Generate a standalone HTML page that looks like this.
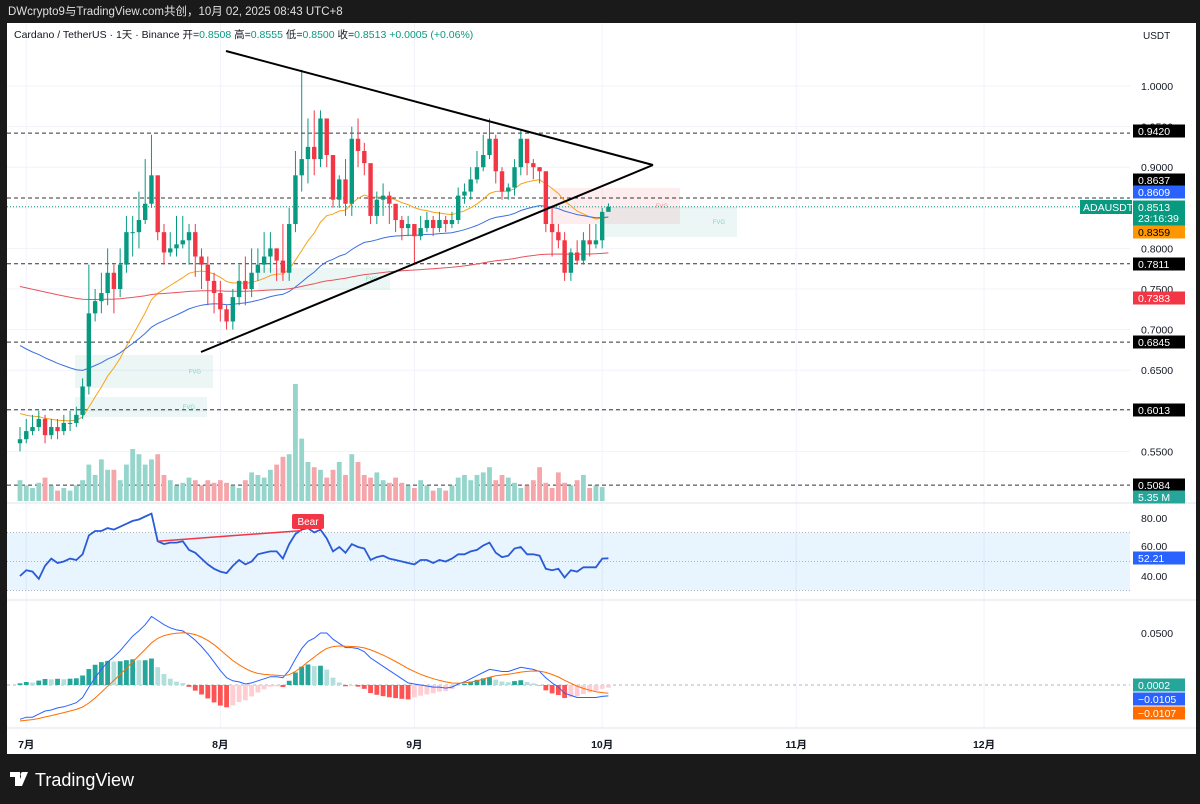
<!DOCTYPE html>
<html><head><meta charset="utf-8"><style>
html,body{margin:0;padding:0;background:#1a1a1a;}
svg{display:block;font-family:"Liberation Sans","Noto Sans CJK SC",sans-serif;}
</style></head><body>
<svg id="c" width="1200" height="804" viewBox="0 0 1200 804" xmlns="http://www.w3.org/2000/svg">
<rect x="0" y="0" width="1200" height="804" fill="#1a1a1a"/>
<text x="8" y="15" font-size="11.5" fill="#e0e0e0">DWcrypto9与TradingView.com共创，10月 02, 2025 08:43 UTC+8</text>
<rect x="7" y="23" width="1189" height="731" fill="#ffffff"/>
<g id="grid"></g>
<g id="zones"></g>
<g id="hlines"></g>
<g id="vol"></g>
<g id="ma"></g>
<g id="candles"></g>
<g id="tri"></g>
<g id="rsi"></g>
<g id="macd"></g>
<g id="axis"></g>
<text x="14" y="38" font-size="10.5" fill="#131722">Cardano / TetherUS · 1天 · Binance  开=<tspan fill="#089981">0.8508</tspan>  高=<tspan fill="#089981">0.8555</tspan>  低=<tspan fill="#089981">0.8500</tspan>  收=<tspan fill="#089981">0.8513</tspan>  <tspan fill="#089981">+0.0005 (+0.06%)</tspan></text>
<text x="1143" y="39" font-size="10" fill="#131722">USDT</text>
<g>
<path d="M10 772 h10 v14 h-5 v-9 h-5 z M23 772 h5 l-6 14 h-5 z" fill="#ffffff"/>
<circle cx="23" cy="774.5" r="2.5" fill="#ffffff"/>
<text x="35" y="786" font-size="18" fill="#ffffff">TradingView</text></g>
</svg>
<script>
const closes=[0.565,
0.575,0.58,0.59,0.57,0.58,0.575,0.585,0.585,0.595,0.63,0.72,0.735,0.745,0.77,0.75,0.78,0.82,0.82,0.835,0.855,0.89,0.82,0.795,0.80,0.805,0.81,0.82,0.79,0.78,0.76,0.745,
0.725,0.71,0.74,0.76,0.75,0.77,0.78,0.79,0.80,0.785,0.77,0.83,0.89,0.91,0.925,0.91,0.96,0.915,0.86,0.885,0.855,0.935,0.92,0.905,0.84,0.86,0.865,0.855,0.835,0.825,0.83,
0.815,0.825,0.835,0.825,0.835,0.83,0.835,0.865,0.87,0.885,0.90,0.915,0.935,0.895,0.87,0.875,0.90,0.935,0.905,0.90,0.895,0.83,0.82,0.81,0.77,0.795,0.785,0.81,0.805,0.81,
0.845,0.8513];
const highs=[0.58,
0.59,0.595,0.60,0.595,0.59,0.59,0.595,0.60,0.605,0.64,0.78,0.75,0.77,0.80,0.78,0.80,0.84,0.84,0.87,0.91,0.94,0.89,0.83,0.82,0.84,0.84,0.83,0.83,0.80,0.79,0.77,
0.76,0.73,0.75,0.78,0.79,0.80,0.80,0.82,0.82,0.80,0.83,0.85,0.92,1.02,0.96,0.97,0.97,0.96,0.91,0.89,0.91,0.95,0.96,0.93,0.87,0.87,0.88,0.87,0.85,0.84,0.84,
0.83,0.84,0.845,0.84,0.845,0.84,0.845,0.875,0.88,0.90,0.92,0.94,0.96,0.94,0.90,0.88,0.91,0.945,0.93,0.91,0.90,0.895,0.85,0.83,0.82,0.80,0.81,0.82,0.83,0.83,
0.85,0.8555];
const lows=[0.55,
0.56,0.57,0.575,0.56,0.565,0.565,0.57,0.575,0.58,0.59,0.62,0.71,0.72,0.73,0.72,0.74,0.77,0.79,0.80,0.83,0.85,0.81,0.78,0.79,0.79,0.80,0.78,0.765,0.75,0.73,0.72,
0.71,0.70,0.70,0.73,0.73,0.74,0.76,0.77,0.77,0.76,0.76,0.76,0.82,0.87,0.88,0.89,0.90,0.90,0.85,0.85,0.84,0.84,0.90,0.89,0.83,0.83,0.84,0.83,0.82,0.81,0.815,
0.78,0.81,0.82,0.815,0.82,0.82,0.825,0.83,0.855,0.86,0.88,0.895,0.91,0.88,0.86,0.86,0.865,0.89,0.89,0.885,0.88,0.82,0.79,0.80,0.76,0.76,0.78,0.78,0.79,0.80,
0.80,0.850];
const volumes=[8,6,5,7,9,6,4,5,4,6,8,14,10,16,12,12,8,14,20,18,14,16,18,10,8,6,7,9,8,6,8,
7,8,7,6,5,8,11,10,9,12,14,17,18,45,24,15,13,12,9,12,15,10,18,15,10,9,11,8,7,9,7,
6,5,8,6,4,5,4,6,9,10,8,10,11,13,8,10,9,7,5,6,8,13,7,5,11,7,6,8,10,5,6,5.35];
const rsiVals=[40,
44,43,38,47,52,49,50,52,51,55,68,71,71,73,72,74,76,78,79,81,83,64,62,63,63,64,58,56,52,48,45,
43,42,47,51,48,50,55,56,57,57,52,62,69,72,73,70,72,66,57,60,56,62,60,59,51,53,54,52,51,50,49,
48,51,51,49,51,50,52,55,55,57,58,61,63,56,53,54,59,60,55,55,54,45,44,45,39,44,43,46,46,46,
52,52.21];
const macdVals=[-0.033,
-0.031,-0.031,-0.028,-0.025,-0.024,-0.022,-0.021,-0.019,-0.017,-0.012,-0.002,0.007,0.015,0.022,0.027,0.033,0.040,0.047,0.052,0.058,0.066,0.062,0.058,0.055,0.053,0.052,0.048,0.043,0.037,0.030,0.022,
0.014,0.007,0.004,0.003,0.001,0.002,0.004,0.006,0.008,0.008,0.007,0.014,0.025,0.035,0.042,0.045,0.050,0.050,0.044,0.040,0.036,0.036,0.035,0.032,0.026,0.022,0.018,0.014,0.010,0.006,0.002,
0.001,0.000,-0.001,-0.002,-0.002,-0.003,-0.002,0.001,0.003,0.006,0.009,0.012,0.015,0.014,0.013,0.013,0.015,0.017,0.016,0.015,0.013,0.007,0.002,-0.002,-0.008,-0.010,-0.012,-0.012,-0.012,-0.012,
-0.011,-0.0105];
const maSeeds=[0.60,0.685,0.755];
const maPeriods=[20,50,200];
const priceTicks=[1.0,0.95,0.90,0.85,0.80,0.75,0.70,0.65,0.60,0.55];
const levelPrices=[0.9420,0.8620,0.7811,0.6845,0.6013,0.5084];
const monthLabels=["7月","8月","9月","10月","11月","12月"];
const monthIdx=[1,32,63,93,124,154];

const NS="http://www.w3.org/2000/svg";
function el(tag,attrs,parent,txt){const e=document.createElementNS(NS,tag);for(const k in attrs)e.setAttribute(k,attrs[k]);if(txt!==undefined)e.textContent=txt;document.getElementById(parent).appendChild(e);return e;}
const X=i=>20+i*6.26;
const YP=p=>86+(1-p)*812;
const YV=v=>501-v*2.6;
const YR=v=>518+(80-v)*1.45;
const YM=v=>685-v*1040;
const n=closes.length;

monthIdx.forEach(i=>{const g=el('line',{x1:X(i),x2:X(i),y1:23,y2:728,stroke:'#f0f3fa','stroke-width':1},'grid');});
priceTicks.forEach(p=>{const g=el('line',{x1:7,x2:1130,y1:YP(p),y2:YP(p),stroke:'#f0f3fa'},'grid');});
[503,600,728].forEach(y=>{const s=el('line',{x1:7,x2:1196,y1:y,y2:y,stroke:'#e0e3eb'},'grid');});

const zones=[[75,355,138,33,'rgba(8,153,129,0.08)','FVG','#7fd8c0'],[75,397,132,20,'rgba(8,153,129,0.08)','FVG','#7fd8c0'],[258,268,132,22,'rgba(8,153,129,0.08)','FVG','#7fd8c0'],[550,188,130,36,'rgba(242,54,69,0.09)','FVG','#f19aa4'],[605,207,132,30,'rgba(8,153,129,0.08)','FVG','#7fd8c0']];
zones.forEach(z=>{const r=el('rect',{x:z[0],y:z[1],width:z[2],height:z[3],fill:z[4]},'zones');
const t=el('text',{x:z[0]+z[2]-12,y:z[1]+z[3]/2+2,'font-size':6,fill:z[6],'text-anchor':'end'},'zones',z[5]);});

levelPrices.forEach(p=>{const l=el('line',{x1:7,x2:1130,y1:YP(p),y2:YP(p),stroke:'#333','stroke-dasharray':'4,3','stroke-width':1},'hlines');});
const cur=el('line',{x1:7,x2:1080,y1:YP(closes[n-1]),y2:YP(closes[n-1]),stroke:'#089981','stroke-dasharray':'1,2'},'hlines');

for(let i=0;i<n;i++){const up=closes[i]>=(i?closes[i-1]:closes[i]);const v=volumes[i]||0;
const r=el('rect',{x:X(i)-2.4,y:YV(v),width:4.8,height:501-YV(v),fill:up?'#95d5cb':'#f5a6ab'},'vol');}

const maColors=['#f7a21b','#3d6fe0','#e8535e'];
maPeriods.forEach((per,k)=>{const a=2/(per+1);let v=maSeeds[k];let pts=[];for(let i=0;i<n;i++){v=v+a*(closes[i]-v);pts.push(X(i).toFixed(1)+','+YP(v).toFixed(1));}
const p=el('polyline',{points:pts.join(' '),fill:'none',stroke:maColors[k],'stroke-width':1},'ma');});

for(let i=0;i<n;i++){const o=i?closes[i-1]:closes[i]-0.005;const c=closes[i];const up=c>=o;const col=up?'#089981':'#f23645';
const hi=highs[i]!==undefined?highs[i]:Math.max(o,c);const lo=lows[i]!==undefined?lows[i]:Math.min(o,c);
const w=el('line',{x1:X(i),x2:X(i),y1:YP(hi),y2:YP(lo),stroke:col,'stroke-width':1},'candles');
const t=Math.min(YP(o),YP(c));const h=Math.max(1,Math.abs(YP(o)-YP(c)));
const b=el('rect',{x:X(i)-2.2,y:t,width:4.4,height:h,fill:col},'candles');}

[[226,51,653,165],[201,352,653,165]].forEach(s=>{const l=el('line',{x1:s[0],y1:s[1],x2:s[2],y2:s[3],stroke:'#000','stroke-width':2},'tri');});

const band=el('rect',{x:7,y:YR(70),width:1123,height:YR(30)-YR(70),fill:'rgba(33,150,243,0.1)'},'rsi');
[70,50,30].forEach(v=>{const l=el('line',{x1:7,x2:1130,y1:YR(v),y2:YR(v),stroke:'#b2b5be','stroke-dasharray':'1,2'},'rsi');});
const rp=el('polyline',{points:rsiVals.map((v,i)=>X(i).toFixed(1)+','+YR(v).toFixed(1)).join(' '),fill:'none',stroke:'#2a5bd7','stroke-width':1.8},'rsi');
const bl=el('line',{x1:X(22),y1:YR(rsiVals[22]),x2:X(45),y2:YR(rsiVals[45])+1,stroke:'#f23645','stroke-width':1.5},'rsi');
const bb=el('rect',{x:292,y:514,width:32,height:15,rx:2,fill:'#f23645'},'rsi');
const bt=el('text',{x:308,y:525,'font-size':10,fill:'#fff','text-anchor':'middle'},'rsi','Bear');

let sig=-0.035;const sigs=[];for(let i=0;i<n;i++){sig=sig+0.2*(macdVals[i]-sig);sigs.push(sig);}
const zl=el('line',{x1:7,x2:1130,y1:YM(0),y2:YM(0),stroke:'#b2b5be','stroke-dasharray':'3,3'},'macd');
let prevH=0;for(let i=0;i<n;i++){const h=macdVals[i]-sigs[i];let col;if(h>=0)col=h>=prevH?'#26a69a':'#b2dfdb';else col=h<=prevH?'#ff5252':'#ffcdd2';prevH=h;
const r=el('rect',{x:X(i)-2.4,y:Math.min(YM(0),YM(h)),width:4.8,height:Math.max(0.5,Math.abs(YM(h)-YM(0))),fill:col},'macd');}
const mp=el('polyline',{points:macdVals.map((v,i)=>X(i).toFixed(1)+','+YM(v).toFixed(1)).join(' '),fill:'none',stroke:'#2962ff','stroke-width':1},'macd');
const sp=el('polyline',{points:sigs.map((v,i)=>X(i).toFixed(1)+','+YM(v).toFixed(1)).join(' '),fill:'none',stroke:'#ff6d00','stroke-width':1},'macd');

priceTicks.forEach(p=>{const t=el('text',{x:1141,y:YP(p)+4,'font-size':10.5,fill:'#131722'},'axis',p.toFixed(4));});
[[80,518],[60,546],[40,576]].forEach(a=>{const t=el('text',{x:1141,y:a[1]+4,'font-size':10.5,fill:'#131722'},'axis',a[0].toFixed(2));});
const mt=el('text',{x:1141,y:637,'font-size':10.5,fill:'#131722'},'axis','0.0500');
monthLabels.forEach((m,k)=>{const t=el('text',{x:X(monthIdx[k]),y:748,'font-size':10.5,fill:'#131722','font-weight':'bold','text-anchor':'middle'},'axis',m);});
const tags=[[131,'0.9420','#000','#fff'],[180,'0.8637','#000','#fff'],[192,'0.8609','#2962ff','#fff'],[207,'0.8513','#089981','#fff'],[232,'0.8359','#ff9800','#000'],[264,'0.7811','#000','#fff'],[298,'0.7383','#f23645','#fff'],[342,'0.6845','#000','#fff'],[410,'0.6013','#000','#fff'],[485,'0.5084','#000','#fff'],[497,'5.35 M','#26a69a','#fff'],[558,'52.21','#2962ff','#fff'],[685,'0.0002','#26a69a','#fff'],[699,'−0.0105','#2962ff','#fff'],[713,'−0.0107','#ff6d00','#fff']];
tags.forEach(t=>{const h=t[1]==='0.8513'?26:13;const r=el('rect',{x:1133,y:t[0]-6.5,width:52,height:h,fill:t[2]},'axis');
const tx=el('text',{x:1138,y:t[0]+4,'font-size':10.5,fill:t[3]},'axis',t[1]);});
const cd=el('text',{x:1138,y:222,'font-size':10.5,fill:'#fff'},'axis','23:16:39');
const sr=el('rect',{x:1080,y:200,width:52,height:14,fill:'#089981'},'axis');
const st=el('text',{x:1083,y:211,'font-size':10.5,fill:'#fff'},'axis','ADAUSDT');
</script>
</body></html>
